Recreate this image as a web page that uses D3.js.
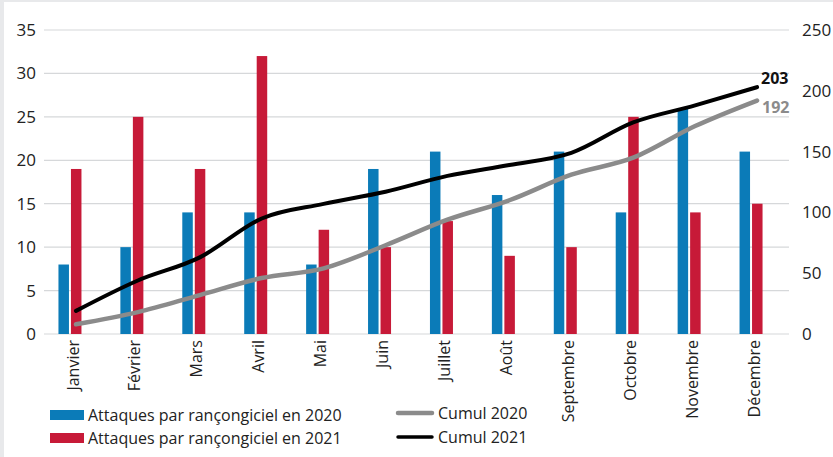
<!DOCTYPE html>
<html>
<head>
<meta charset="utf-8">
<script src="https://cdn.jsdelivr.net/npm/d3@7"></script>
<style>
	body { margin: 0; background: #e8e9eb; }
	svg { display: block; }
	text { font-family: "Open Sans", "Noto Sans", sans-serif; fill: #222; }
</style>
</head>
<body>
<script>
// data
var months = ["Janvier","Février","Mars","Avril","Mai","Juin","Juillet","Août","Septembre","Octobre","Novembre","Décembre"];
var attaques2020 = [8,10,14,14,8,19,21,16,21,14,26,21];
var attaques2021 = [19,25,19,32,12,10,13,9,10,25,14,15];
var leftTicks = [0,5,10,15,20,25,30,35];
var rightTicks = [0,50,100,150,200,250];

var blue = "#0b7bb8", red = "#c71a38", grey = "#8b8b8b";

// cumulative series
function cumul(ar){
	var s = 0;
	return ar.map(v => s += v);
}
var cumul2020 = cumul(attaques2020),
	cumul2021 = cumul(attaques2021);

var width = 833, height = 457;

var svg = d3.select("body").append("svg")
	.attr("width", width)
	.attr("height", height);

// white panel inside grey frame
svg.append("rect")
	.attr("x", 4).attr("y", 2)
	.attr("width", width - 4).attr("height", height - 2)
	.attr("fill", "#fff");

// scales
var x = d3.scaleBand()
	.domain(months)
	.range([39, 782]);

var yLeft = d3.scaleLinear()
	.domain([0, 35])
	.range([334, 30]);

var yRight = d3.scaleLinear()
	.domain([0, 250])
	.range([334, 30]);

// gridlines
svg.append("g")
	.selectAll("line")
	.data(leftTicks)
	.enter()
	.append("line")
	.attr("x1", 44).attr("x2", 789)
	.attr("y1", d => yLeft(d)).attr("y2", d => yLeft(d))
	.attr("stroke", "#d6d8da")
	.attr("stroke-width", 1.2);

// left axis labels
svg.append("g")
	.selectAll("text")
	.data(leftTicks)
	.enter()
	.append("text")
	.attr("x", 36)
	.attr("y", d => yLeft(d))
	.attr("dy", "0.35em")
	.attr("text-anchor", "end")
	.style("font-size", "17px")
	.text(d => d);

// right axis labels
svg.append("g")
	.selectAll("text")
	.data(rightTicks)
	.enter()
	.append("text")
	.attr("x", 802)
	.attr("y", d => yRight(d))
	.attr("dy", "0.35em")
	.style("font-size", "17px")
	.text(d => d);

// bars
var bw = 10.5;
var center = d => x(d) + x.bandwidth()/2;

svg.append("g")
	.selectAll("rect")
	.data(months)
	.enter()
	.append("rect")
	.attr("x", d => center(d) - bw - 1)
	.attr("y", (d,i) => yLeft(attaques2020[i]))
	.attr("width", bw)
	.attr("height", (d,i) => yLeft(0) - yLeft(attaques2020[i]))
	.attr("fill", blue);

svg.append("g")
	.selectAll("rect")
	.data(months)
	.enter()
	.append("rect")
	.attr("x", d => center(d) + 1)
	.attr("y", (d,i) => yLeft(attaques2021[i]))
	.attr("width", bw)
	.attr("height", (d,i) => yLeft(0) - yLeft(attaques2021[i]))
	.attr("fill", red);

// cumulative lines
var line = d3.line()
	.x((d,i) => center(months[i]) + 6)
	.y(d => yRight(d))
	.curve(d3.curveMonotoneX);

svg.append("path")
	.datum(cumul2020)
	.attr("d", line)
	.attr("fill", "none")
	.attr("stroke", grey)
	.attr("stroke-width", 4.5)
	.attr("stroke-linecap", "round");

svg.append("path")
	.datum(cumul2021)
	.attr("d", line)
	.attr("fill", "none")
	.attr("stroke", "#000")
	.attr("stroke-width", 4)
	.attr("stroke-linecap", "round");

// end labels
var last = months.length - 1;
svg.append("text")
	.attr("x", center(months[last]) + 10)
	.attr("y", yRight(cumul2021[last]) - 3)
	.style("font-size", "16px")
	.style("font-weight", "bold")
	.style("fill", "#111")
	.text(cumul2021[last]);

svg.append("text")
	.attr("x", center(months[last]) + 11)
	.attr("y", yRight(cumul2020[last]) + 12)
	.style("font-size", "16px")
	.style("font-weight", "bold")
	.style("fill", grey)
	.text(cumul2020[last]);

// month labels
svg.append("g")
	.selectAll("text")
	.data(months)
	.enter()
	.append("text")
	.attr("transform", d => "translate(" + (center(d) + 3) + ",340)rotate(-90)")
	.attr("text-anchor", "end")
	.attr("dy", "0.35em")
	.style("font-size", "16px")
	.text(d => d);

// legend
var legend = svg.append("g");
var legendBars = [["Attaques par rançongiciel en 2020", blue], ["Attaques par rançongiciel en 2021", red]];
var legendLines = [["Cumul 2020", grey], ["Cumul 2021", "#000"]];

legendBars.forEach(function(l, i){
	legend.append("rect")
		.attr("x", 50).attr("y", 410 + i*23)
		.attr("width", 34).attr("height", 10)
		.attr("fill", l[1]);
	legend.append("text")
		.attr("x", 88).attr("y", 415 + i*23)
		.attr("dy", "0.35em")
		.style("font-size", "16px")
		.text(l[0]);
});

legendLines.forEach(function(l, i){
	legend.append("line")
		.attr("x1", 398).attr("x2", 432)
		.attr("y1", 413 + i*24).attr("y2", 413 + i*24)
		.attr("stroke", l[1])
		.attr("stroke-width", i == 0 ? 4.5 : 3.5)
		.attr("stroke-linecap", "round");
	legend.append("text")
		.attr("x", 438).attr("y", 413 + i*24)
		.attr("dy", "0.35em")
		.style("font-size", "16px")
		.text(l[0]);
});
</script>
</body>
</html>
